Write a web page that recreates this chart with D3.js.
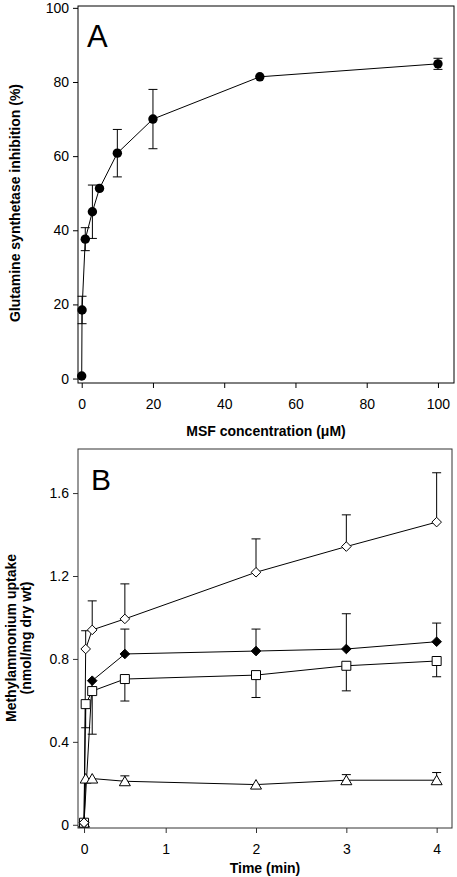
<!DOCTYPE html>
<html><head><meta charset="utf-8">
<script src="https://cdn.jsdelivr.net/npm/d3@7"></script>
<style>
body{margin:0;background:#fff}
svg{display:block}
text{font-family:"Liberation Sans",Arial,Helvetica,sans-serif;fill:#000}
</style>
</head><body>
<svg id="c" width="457" height="877"></svg>
<script>
// ---------- Panel A data ----------
const msfConc = [0, 0.1, 1, 3, 5, 10, 20, 50, 100];
const gsInhibition = [0.7, 18.5, 37.6, 45.0, 51.3, 60.8, 70.0, 81.4, 84.9];
const gsInhibitionErr = [0, 3.7, 3.1, 7.2, 0, 6.4, 8.0, 0, 1.5];
const aXTicks = [0, 20, 40, 60, 80, 100];
const aYTicks = [0, 20, 40, 60, 80, 100];

// ---------- Panel B data ----------
const timeMin = [0, 0.02, 0.1, 0.5, 2, 3, 4];
const openDiamond = [0.01, 0.848, 0.940, 0.993, 1.218, 1.342, 1.460];
const openDiamondErr = [0, 0.088, 0.14, 0.169, 0.161, 0.153, 0.238];
const filledDiamondTime = [0, 0.1, 0.5, 2, 3, 4];
const filledDiamond = [0.01, 0.695, 0.824, 0.838, 0.848, 0.883];
const filledDiamondErr = [0, 0, 0.12, 0.106, 0.17, 0.09];
const openSquare = [0.01, 0.582, 0.645, 0.703, 0.722, 0.767, 0.790];
const openSquareErr = [0, 0.114, 0.208, 0.106, 0.108, 0.121, 0.076];
const openTriangle = [0.01, 0.223, 0.223, 0.210, 0.194, 0.215, 0.215];
const openTriangleErr = [0, 0, 0, 0.026, 0, 0.027, 0.037];
const bXTicks = [0, 1, 2, 3, 4];
const bYTicks = [0, 0.4, 0.8, 1.2, 1.6];

const svg = d3.select("#c");

function zip(xs, ys, es){ return xs.map((x,i)=>({x, y:ys[i], e:es?es[i]:0})); }

function drawAxes(g, x, y, xTicks, yTicks, xFmt, yFmt, frame, frameColor){
  g.append("rect").attr("x", frame.l).attr("y", frame.t)
    .attr("width", frame.r-frame.l).attr("height", frame.b-frame.t)
    .attr("fill","none").attr("stroke",frameColor).attr("stroke-width",1);
  const ya = g.append("g").attr("transform",`translate(${frame.l},0)`)
    .call(d3.axisLeft(y).tickValues(yTicks).tickSize(5).tickPadding(4).tickFormat(yFmt));
  ya.select(".domain").remove();
  ya.selectAll("line").attr("stroke",frameColor);
  ya.selectAll("text").attr("font-size",14).style("font-family",'"Liberation Sans",Arial,sans-serif');
  const xa = g.append("g").attr("transform",`translate(0,${frame.b})`)
    .call(d3.axisBottom(x).tickValues(xTicks).tickSize(5).tickPadding(11).tickFormat(xFmt));
  xa.select(".domain").remove();
  xa.selectAll("line").attr("stroke",frameColor);
  xa.selectAll("text").attr("font-size",14).style("font-family",'"Liberation Sans",Arial,sans-serif');
}

function drawErr(g, x, y, pts, dir){
  const cap = 4.5;
  pts.filter(d=>d.e>0).forEach(d=>{
    const cx = x(d.x);
    const ends = dir==="both" ? [d.y+d.e, d.y-d.e] : dir==="up" ? [d.y+d.e] : [d.y-d.e];
    ends.forEach(v=>{
      g.append("line").attr("x1",cx).attr("x2",cx).attr("y1",y(d.y)).attr("y2",y(v))
        .attr("stroke","#000").attr("stroke-width",1);
      g.append("line").attr("x1",cx-cap).attr("x2",cx+cap).attr("y1",y(v)).attr("y2",y(v))
        .attr("stroke","#000").attr("stroke-width",1);
    });
  });
}

function drawLine(g, x, y, pts){
  g.append("path").datum(pts)
    .attr("d", d3.line().x(d=>x(d.x)).y(d=>y(d.y)))
    .attr("fill","none").attr("stroke","#000").attr("stroke-width",1);
}

function drawMarkers(g, x, y, pts, pathStr, fill){
  g.selectAll(null).data(pts).enter().append("path")
    .attr("d", pathStr)
    .attr("transform", d=>`translate(${x(d.x)},${y(d.y)})`)
    .attr("fill", fill).attr("stroke","#000").attr("stroke-width",1);
}

// ================= Panel A =================
{
  const frame = {l:78, r:454, t:6, b:383};
  const x = d3.scaleLinear().domain([-1.04, 104.5]).range([frame.l, frame.r]);
  const y = d3.scaleLinear().domain([-1.2, 100.5]).range([frame.b, frame.t]);
  const g = svg.append("g");
  drawAxes(g, x, y, aXTicks, aYTicks, d3.format("d"), d3.format("d"), frame, "#000");
  const pts = zip(msfConc, gsInhibition, gsInhibitionErr);
  drawLine(g, x, y, pts);
  drawErr(g, x, y, pts, "both");
  g.selectAll(null).data(pts).enter().append("circle")
    .attr("cx", d=>x(d.x)).attr("cy", d=>y(d.y)).attr("r", 4.7).attr("fill","#000");
  g.append("text").attr("x", 87).attr("y", 47).attr("font-size", 31).text("A");
  g.append("text").attr("transform","translate(20,203) rotate(-90)")
    .attr("text-anchor","middle").attr("font-size",14).attr("font-weight","bold")
    .text("Glutamine synthetase inhibition (%)");
  g.append("text").attr("x",(frame.l+frame.r)/2).attr("y",436)
    .attr("text-anchor","middle").attr("font-size",14).attr("font-weight","bold")
    .text("MSF concentration (\u03BCM)");
}

// ================= Panel B =================
{
  const frame = {l:78, r:452, t:449, b:828};
  const x = d3.scaleLinear().domain([-0.074, 1, 4.17]).range([frame.l, 165.7, frame.r]);
  const y = d3.scaleLinear().domain([-0.0155, 1.8126]).range([frame.b, frame.t]);
  const g = svg.append("g");
  drawAxes(g, x, y, bXTicks, bYTicks, d3.format("d"), d=> d===0 ? "0" : d3.format(".1f")(d), frame, "#333");

  const dia = "M0,-4.8L4.8,0L0,4.8L-4.8,0Z";
  const sq = "M-4.5,-4.5H4.5V4.5H-4.5Z";
  const tri = "M0,-5L5.5,4.5L-5.5,4.5Z";

  const sOpenDia = zip(timeMin, openDiamond, openDiamondErr);
  const sFillDia = zip(filledDiamondTime, filledDiamond, filledDiamondErr);
  const sSq = zip(timeMin, openSquare, openSquareErr);
  const sTri = zip(timeMin, openTriangle, openTriangleErr);

  [sOpenDia, sFillDia, sSq, sTri].forEach(s=>drawLine(g, x, y, s));
  drawErr(g, x, y, sOpenDia, "up");
  drawErr(g, x, y, sFillDia, "up");
  drawErr(g, x, y, sSq, "down");
  drawErr(g, x, y, sTri, "up");

  drawMarkers(g, x, y, sTri, tri, "#fff");
  drawMarkers(g, x, y, sSq, sq, "#fff");
  drawMarkers(g, x, y, sFillDia, dia, "#000");
  drawMarkers(g, x, y, sOpenDia, dia, "#fff");

  g.append("text").attr("x", 91).attr("y", 490).attr("font-size", 30).text("B");
  g.append("text").attr("transform","translate(16,638) rotate(-90)")
    .attr("text-anchor","middle").attr("font-size",14).attr("font-weight","bold")
    .text("Methylammonium uptake");
  g.append("text").attr("transform","translate(31,638) rotate(-90)")
    .attr("text-anchor","middle").attr("font-size",14).attr("font-weight","bold")
    .text("(nmol/mg dry wt)");
  g.append("text").attr("x",(frame.l+frame.r)/2).attr("y",873)
    .attr("text-anchor","middle").attr("font-size",14).attr("font-weight","bold")
    .text("Time (min)");
}
</script>
</body></html>
